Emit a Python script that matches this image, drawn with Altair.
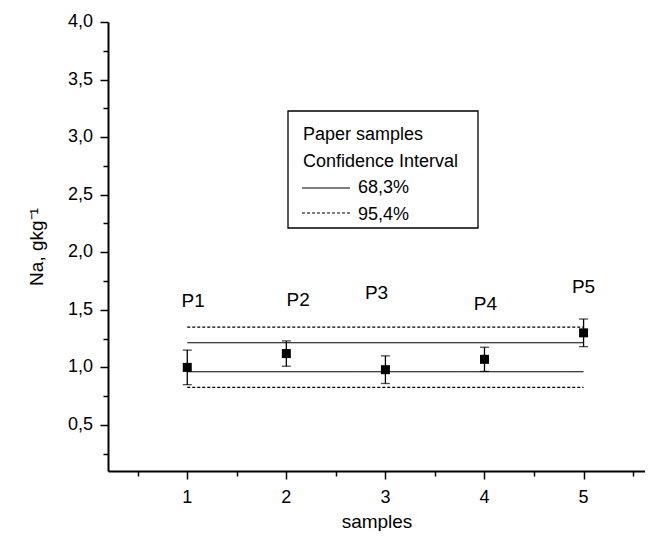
import altair as alt
import pandas as pd

# --- data ---
samples = [1, 2, 3, 4, 5]
names = ["P1", "P2", "P3", "P4", "P5"]
na_values = [1.00, 1.12, 0.98, 1.07, 1.30]
na_errors = [0.15, 0.11, 0.12, 0.105, 0.12]
label_x = [1.06, 2.12, 2.91, 4.01, 5.00]
label_y = [1.58, 1.585, 1.645, 1.55, 1.70]

ci_levels = ["68,3%", "68,3%", "95,4%", "95,4%"]
ci_values = [1.214, 0.962, 1.35, 0.826]
ci_start = 1
ci_end = 5

y_major = [0.5, 1.0, 1.5, 2.0, 2.5, 3.0, 3.5, 4.0]
y_major_labels = ["0,5", "1,0", "1,5", "2,0", "2,5", "3,0", "3,5", "4,0"]
y_minor = [0.25, 0.75, 1.25, 1.75, 2.25, 2.75, 3.25, 3.75]
x_major = [1, 2, 3, 4, 5]
x_major_labels = ["1", "2", "3", "4", "5"]
x_minor = [0.5, 1.5, 2.5, 3.5, 4.5, 5.5]

legend_title = ["Paper samples", "Confidence Interval"]
legend_items = ["68,3%", "95,4%"]

X_MIN, X_MAX = 0.2, 5.62
Y_MIN, Y_MAX = 0.1, 4.0

FONT = "Liberation Sans"

pts = pd.DataFrame({
    "sample": samples,
    "name": names,
    "na": na_values,
    "lo": [v - e for v, e in zip(na_values, na_errors)],
    "hi": [v + e for v, e in zip(na_values, na_errors)],
    "lx": label_x,
    "ly": label_y,
})
ci = pd.DataFrame({
    "level": ci_levels,
    "value": ci_values,
    "x1": [ci_start] * 4,
    "x2": [ci_end] * 4,
})
ylab = pd.DataFrame({"v": y_major, "t": y_major_labels, "x0": [X_MIN] * len(y_major)})
xlab = pd.DataFrame({"v": x_major, "t": x_major_labels, "y0": [Y_MIN] * len(x_major)})

xs = alt.Scale(domain=[X_MIN, X_MAX], nice=False, zero=False)
ys = alt.Scale(domain=[Y_MIN, Y_MAX], nice=False, zero=False)

x_axis_major = alt.Axis(values=x_major, labels=False, title="samples", orient="bottom",
                        tickSize=8, titlePadding=33, grid=False,
                        domainColor="black", domainWidth=2, tickColor="black", tickWidth=1.5,
                        titleFont=FONT, titleFontSize=19, titleFontWeight="normal", titleColor="black")
y_axis_major = alt.Axis(values=y_major, labels=False, title="Na, gkg⁻¹", orient="left",
                        tickSize=8, titlePadding=53, grid=False,
                        domainColor="black", domainWidth=2, tickColor="black", tickWidth=1.5,
                        titleFont=FONT, titleFontSize=19, titleFontWeight="normal", titleColor="black")
x_axis_minor = alt.Axis(values=x_minor, labels=False, title=None, orient="bottom", tickSize=5,
                        domain=False, grid=False, tickColor="black", tickWidth=1.5)
y_axis_minor = alt.Axis(values=y_minor, labels=False, title=None, orient="left", tickSize=5,
                        domain=False, grid=False, tickColor="black", tickWidth=1.5)

ci_lines = alt.Chart(ci).mark_rule(color="black", strokeWidth=1.1).encode(
    x=alt.X("x1:Q", scale=xs, axis=x_axis_major),
    x2="x2:Q",
    y=alt.Y("value:Q", scale=ys, axis=y_axis_major),
    strokeDash=alt.StrokeDash("level:N", scale=alt.Scale(domain=legend_items, range=[[1, 0], [3, 2]]), legend=None),
)

err = alt.Chart(pts).mark_rule(color="black", strokeWidth=1.3).encode(
    x=alt.X("sample:Q", scale=xs, axis=x_axis_minor),
    y=alt.Y("lo:Q", scale=ys, axis=y_axis_minor),
    y2="hi:Q",
)
cap_lo = alt.Chart(pts).mark_tick(color="black", orient="horizontal", size=9, thickness=1.3).encode(
    x=alt.X("sample:Q", scale=xs, axis=None), y=alt.Y("lo:Q", scale=ys, axis=None))
cap_hi = alt.Chart(pts).mark_tick(color="black", orient="horizontal", size=9, thickness=1.3).encode(
    x=alt.X("sample:Q", scale=xs, axis=None), y=alt.Y("hi:Q", scale=ys, axis=None))
squares = alt.Chart(pts).mark_square(color="black", size=81, opacity=1).encode(
    x=alt.X("sample:Q", scale=xs, axis=None), y=alt.Y("na:Q", scale=ys, axis=None))
plabels = alt.Chart(pts).mark_text(font=FONT, fontSize=19, color="black").encode(
    x=alt.X("lx:Q", scale=xs, axis=None), y=alt.Y("ly:Q", scale=ys, axis=None), text="name:N")

# tick labels drawn as text through the same scales
ytext = alt.Chart(ylab).mark_text(font=FONT, fontSize=18, color="black", align="right",
                                  baseline="middle", dx=-15).encode(
    x=alt.X("x0:Q", scale=xs, axis=None), y=alt.Y("v:Q", scale=ys, axis=None), text="t:N")
xtext = alt.Chart(xlab).mark_text(font=FONT, fontSize=18, color="black", align="center",
                                  baseline="middle", dy=27).encode(
    x=alt.X("v:Q", scale=xs, axis=None), y=alt.Y("y0:Q", scale=ys, axis=None), text="t:N")

# legend box (layout positions in pixels)
leg_df = pd.DataFrame({"t": [0]})
box = alt.Chart(leg_df).mark_rect(fill=None, stroke="black", strokeWidth=1.3).encode(
    x=alt.value(180), x2=alt.value(370), y=alt.value(89), y2=alt.value(206))
t1 = alt.Chart(leg_df).mark_text(font=FONT, fontSize=18, align="left", baseline="alphabetic", color="black",
                                 text=legend_title[0]).encode(x=alt.value(195), y=alt.value(118))
t2 = alt.Chart(leg_df).mark_text(font=FONT, fontSize=18, align="left", baseline="alphabetic", color="black",
                                 text=legend_title[1]).encode(x=alt.value(195), y=alt.value(145))
t3 = alt.Chart(leg_df).mark_text(font=FONT, fontSize=18, align="left", baseline="alphabetic", color="black",
                                 text=legend_items[0]).encode(x=alt.value(250), y=alt.value(171))
t4 = alt.Chart(leg_df).mark_text(font=FONT, fontSize=18, align="left", baseline="alphabetic", color="black",
                                 text=legend_items[1]).encode(x=alt.value(250), y=alt.value(198))
l1 = alt.Chart(leg_df).mark_rule(color="black", strokeWidth=1.1).encode(
    x=alt.value(194), x2=alt.value(242), y=alt.value(166))
l2 = alt.Chart(leg_df).mark_rule(color="black", strokeWidth=1.1, strokeDash=[3, 2]).encode(
    x=alt.value(194), x2=alt.value(242), y=alt.value(191))

chart = alt.layer(
    ci_lines, err, cap_lo, cap_hi, squares, plabels, ytext, xtext, box, t1, t2, t3, t4, l1, l2
).resolve_axis(x="independent", y="independent").properties(
    width=537, height=449,
    autosize=alt.AutoSizeParams(type="none"),
    padding={"left": 100, "top": 14, "right": 0, "bottom": 60},
    background="white",
).configure_view(stroke=None)

chart.save("out.html", embed_options={"renderer": "svg", "actions": False})
